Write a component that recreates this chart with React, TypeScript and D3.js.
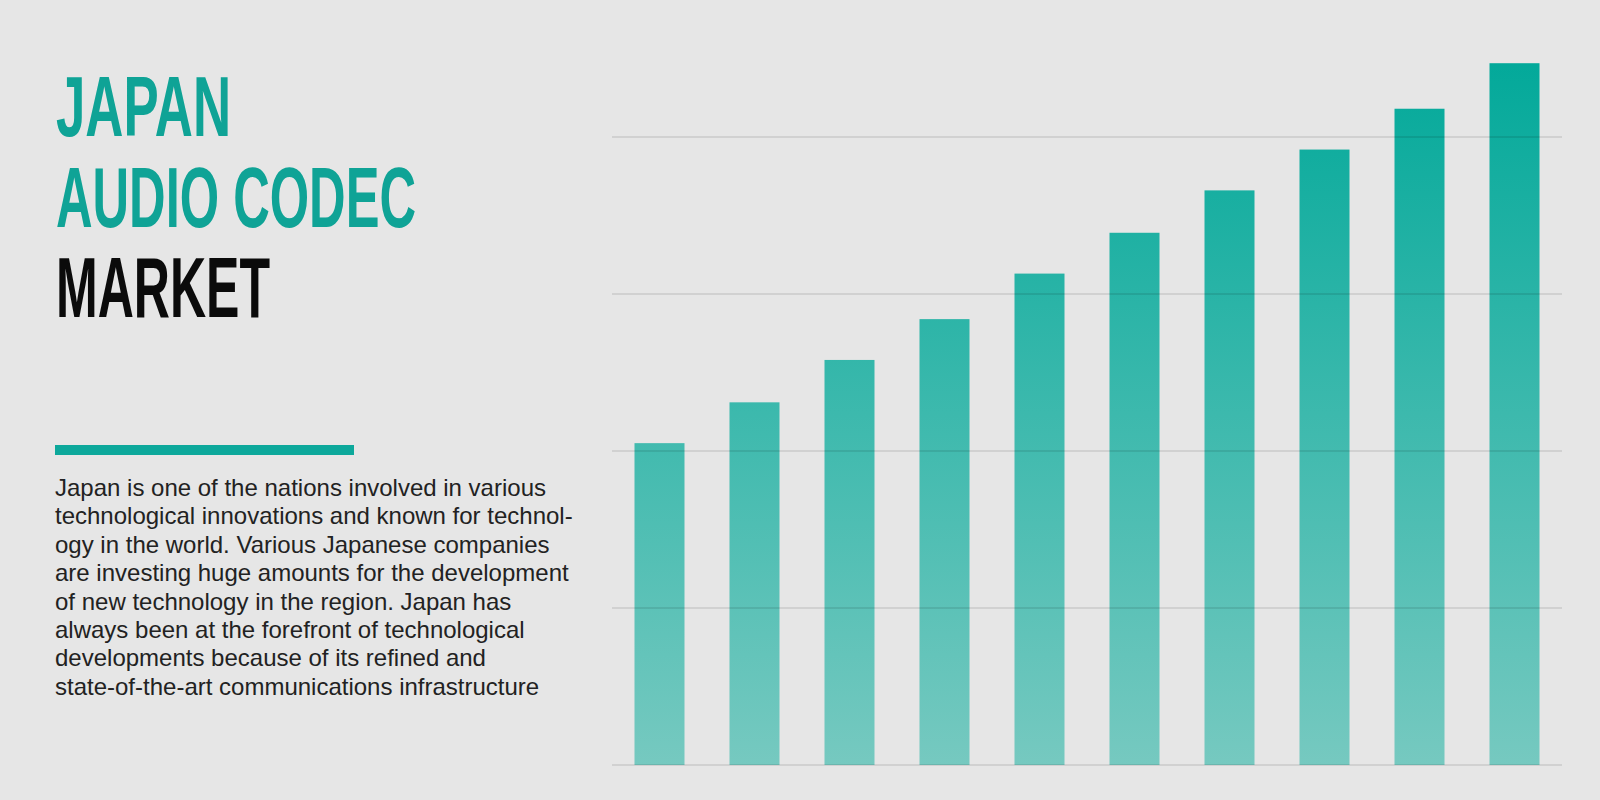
import * as d3 from 'd3'
import React from "react";

// bar chart values (no axis labels in the picture, read against the gridlines)
const categories = ["2019", "2020", "2021", "2022", "2023", "2024", "2025", "2026", "2027", "2028"];
const values = [2.05, 2.31, 2.58, 2.84, 3.13, 3.39, 3.66, 3.92, 4.18, 4.47];
const gridTicks = [0, 1, 2, 3, 4];

const titleLines = ["JAPAN", "AUDIO CODEC", "MARKET"];
const titleColors = ["#0fa396", "#0fa396", "#0b0b0b"];
const titleWidths = [175, 360, 214];

const bodyLines = [
    "Japan is one of the nations involved in various",
    "technological innovations and known for technol-",
    "ogy in the world. Various Japanese companies",
    "are investing huge amounts for the development",
    "of new technology in the region. Japan has",
    "always been at the forefront of technological",
    "developments because of its refined and",
    "state-of-the-art communications infrastructure",
];

const W = 1600;
const H = 800;

const App: React.FC = () => {
    const x = d3.scaleBand<string>()
        .domain(categories)
        .range([612, 1562])
        .paddingInner(0.4737)
        .paddingOuter(0.2368);

    const y = d3.scaleLinear().domain([0, 4]).range([765, 137]);

    return (
        <div style={{ position: 'fixed', left: 0, top: 0 }}>
            <svg width={W} height={H} style={{ display: 'block' }}>
                <defs>
                    <linearGradient id="barGrad" gradientUnits="userSpaceOnUse"
                        x1={0} x2={0} y1={y(d3.max(values) as number)} y2={y(0)}>
                        <stop offset="0%" stopColor="#03a99a" />
                        <stop offset="100%" stopColor="#76c9c0" />
                    </linearGradient>
                </defs>
                <rect width={W} height={H} fill="#e6e6e6" />

                {/* title */}
                {titleLines.map((t, i) => (
                    <text key={t} x={56} y={136 + i * 90.5}
                        fontFamily="'Liberation Sans', Arial, sans-serif"
                        fontWeight="bold" fontSize={85}
                        textLength={titleWidths[i]} lengthAdjust="spacingAndGlyphs"
                        fill={titleColors[i]}>{t}</text>
                ))}

                <rect x={55} y={445} width={299} height={10} fill="#0da89b" />

                {bodyLines.map((t, i) => (
                    <text key={i} x={55} y={496 + i * 28.4}
                        fontFamily="'Liberation Sans', Arial, sans-serif"
                        fontSize={24} fill="#222">{t}</text>
                ))}

                {/* bars */}
                {categories.map((c, i) => (
                    <rect key={c} x={x(c)} y={y(values[i])}
                        width={x.bandwidth()} height={y(0) - y(values[i])}
                        fill="url(#barGrad)" />
                ))}

                {/* gridlines over the bars */}
                {gridTicks.map(t => (
                    <line key={t} x1={612} x2={1562} y1={y(t)} y2={y(t)}
                        stroke="#000" strokeOpacity={0.09} strokeWidth={2} />
                ))}
            </svg>
        </div>
    );
}

export default App;
